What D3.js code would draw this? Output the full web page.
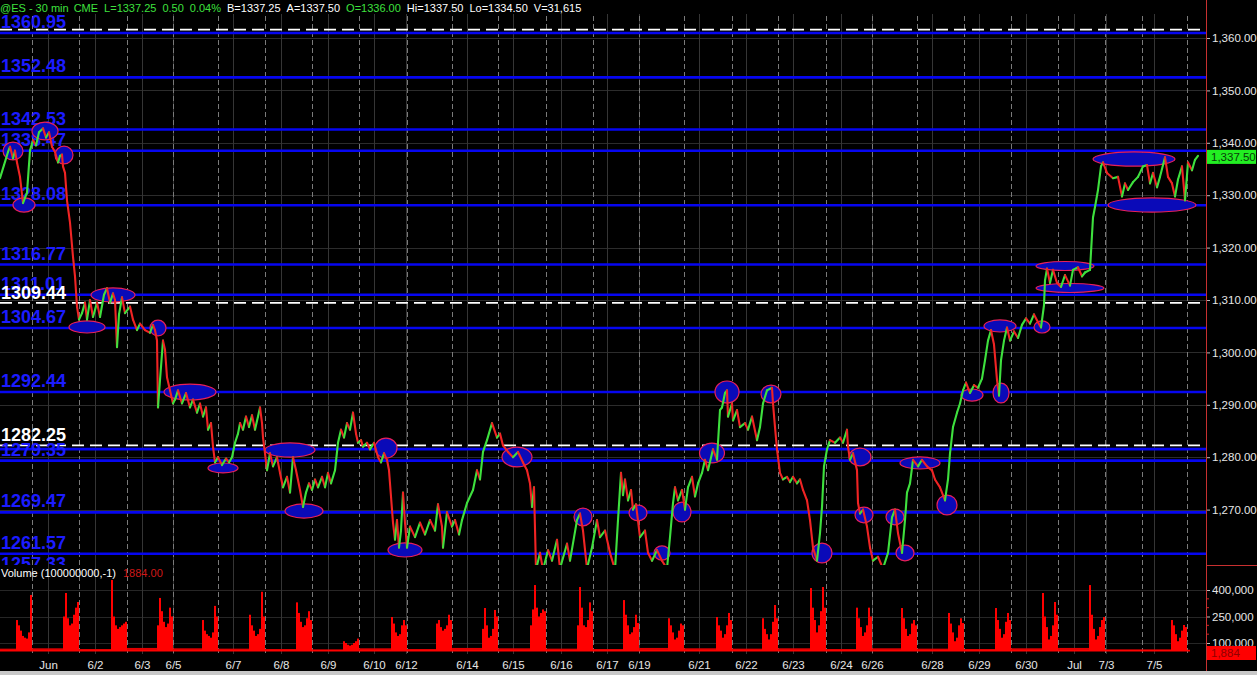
<!DOCTYPE html>
<html><head><meta charset="utf-8">
<script src="https://cdn.jsdelivr.net/npm/d3@7"></script>
<style>html,body{margin:0;padding:0;background:#000;overflow:hidden}</style>
</head><body><svg id="c" width="1257" height="675"></svg>
<script>
// ---------------- DATA ----------------
const blueLevels=[1360.95,1352.48,1342.53,1338.47,1328.08,1316.77,1311.01,1304.67,1292.44,1281.55,1279.35,1269.47,1261.57,1257.53];
const blueLabels=["1360.95","1352.48","1342.53","1338.47","1328.08","1316.77","1311.01","1304.67","1292.44","","1279.35","1269.47","1261.57","1257.33"];
const whiteLevels=[1361.60,1309.44,1282.25];
const whiteLabels=["","1309.44","1282.25"];
const priceTicks=[1360,1350,1340,1330,1320,1310,1300,1290,1280,1270];
const volTicks=[400000,250000,100000];
const volMinorTicks=[350000,300000,200000,150000,50000];
const dateLabels=["Jun","6/2","6/3","6/5","6/7","6/8","6/9","6/10","6/12","6/14","6/15","6/16","6/17","6/19","6/21","6/22","6/23","6/24","6/26","6/28","6/29","6/30","Jul","7/3","7/5"];
const dateBars=[48,95,142,173,233,281,328,374,406,467,513,561,607,639,699,746,793,841,872,932,979,1026,1074,1106,1154];
const sessionEnds=[32,79,127,173,218,265,312,359,407,452,498,546,593,639,684,732,778,826,872,917,964,1011,1058,1105,1142,1187];
const rthEnds=[32,79,127,173,218,265,312,359,407,452,498,546,593,639,684,732,778,826,872,917,964,1011,1058,1105,1187];
// regular-session volume, thousands of contracts, one value per hour
const rthVol=[
 [230,200,170,140,130,125,160,372],[250,383,240,200,210,260,300,332],[457,250,200,180,190,200,210,220],
 [200,355,280,220,190,210,300,250],[230,170,150,140,130,160,310,250],[260,200,170,140,150,180,390,250],
 [330,270,220,190,200,240,280,230],[110,100,90,85,90,100,110,125],[247,210,160,140,150,200,230,200],
 [210,230,190,170,180,200,260,230],[180,298,200,130,140,180,287,250],[200,290,428,300,250,270,290,280],
 [200,417,300,200,190,230,330,280],[343,260,200,150,160,190,260,213],[240,200,160,120,130,170,210,200],
 [247,200,170,130,150,200,270,230],[240,180,150,120,150,220,315,240],[411,300,230,160,200,280,417,300],
 [300,240,190,140,160,200,300,250],[298,240,180,140,150,210,230,200],[270,210,160,110,130,200,240,213],
 [298,230,180,130,150,220,270,230],[383,250,190,120,140,200,332,260],[428,260,180,120,140,190,230,247],
 [230,200,150,110,130,170,202,190]];
const nightVol=[68,70,66,72,70,68,66,64,70,66,72,70,68,66,72,70,68,70,66,70,68,66,70,72,64,62];
const baseVol=56000;
const lastPrice=1337.50, lastVol=1884;
const headerItems=["@ES - 30 min","CME","L=1337.25","0.50","0.04%","B=1337.25","A=1337.50","O=1336.00","Hi=1337.50","Lo=1334.50","V=31,615"];
const headerUp=[true,true,true,true,true,false,false,true,false,false,false];
// ES 30-min path: [bar index, price]
const pricePath=[
[0,1333.25],[4,1335.75],[8,1338.25],[10,1339.25],[13,1337],[15,1338.5],[17,1336.25],[20,1333.5],[23,1328.5],[25,1329.5],[27,1330.5],[30,1338.5],[33,1340.5],[36,1339.5],[39,1342],[43,1342.75],[46,1341],[49,1342],[52,1339.25],[55,1338.25],[58,1336.25],[60,1337.5],[62,1337.75],[63,1335.5],[65,1334.25],[67,1329],[70,1324.75],[73,1318.25],[75,1314.5],[77,1308.75],[79,1306.25],[82,1307.5],[85,1309.5],[87,1306.25],[90,1310],[93,1306.75],[97,1309.5],[100,1306.75],[104,1311],[107,1312.25],[110,1309.5],[113,1311.25],[115,1310],[117,1301],[119,1307.25],[122,1310.5],[125,1307.5],[130,1308.75],[133,1306.25],[137,1304.25],[140,1305.5],[145,1304.25],[150,1303.75],[153,1305.25],[155,1304.25],[157,1302.25],[158,1289.5],[160,1294.75],[163,1302.25],[165,1300.5],[167,1295.25],[170,1292.75],[173,1290.25],
[175,1291],[178,1292.75],[182,1290.25],[186,1292.25],[190,1289.5],[193,1291],[197,1288.5],[200,1290.25],[203,1287.75],[206,1289.5],[208,1285.25],[211,1286.5],[213,1282],[215,1279],[218,1280],[222,1278.5],[226,1279.75],[229,1279],[232,1280],[235,1282.75],[238,1284.5],[240,1286.5],[243,1285.25],[246,1287.75],[249,1285.75],[252,1288],[255,1285.25],[258,1287.75],[260,1289.5],[262,1286.5],[263,1283.75],[265,1280.75],[267,1277.5],[270,1280.75],[273,1278.25],[277,1280],[280,1277],[283,1274.25],[287,1276.25],[290,1273.25],[293,1280],[296,1277.5],[300,1273.75],[303,1270.5],[306,1273.25],[309,1275],[312,1273.75],[315,1275.75],[318,1274.25],[322,1276.25],[325,1274.25],[328,1277],[331,1275],[335,1277.5],[338,1282.75],[341,1285.25],[344,1283.75],[347,1286.5],[350,1285.25],[353,1288.5],[356,1284.5],[358,1282.75],[361,1283.25],[363,1282],[367,1282.75],[370,1281.5],[374,1282.75],[378,1280],[381,1279],[384,1280.75],[387,1279.5],[389,1277.5],[391,1272.5],[393,1267.5],[395,1264.25],[397,1268],[399,1262.75],[401,1266],[403,1273.25],[405,1267.5],[407,1262.75],
[410,1266.75],[415,1264.75],[420,1267.5],[425,1265.25],[430,1268],[435,1266],[438,1271],[442,1266.75],[443,1262.75],[447,1269.5],[452,1266.75],[455,1268],[459,1265.25],[462,1268],[467,1271.25],[473,1273.75],[477,1277.5],[480,1275.75],[483,1281],[487,1283.25],[492,1286.5],[497,1283.75],[500,1284.5],[503,1282.25],[508,1281],[513,1280],[518,1281],[523,1279],[527,1277.5],[530,1275],[532,1270.5],[534,1274.25],[536,1258.5],[540,1261.75],[543,1258.5],[548,1262.25],[552,1260.25],[557,1264.25],[560,1258.75],[567,1263.5],[570,1260.25],[577,1268],[580,1269.25],[583,1266],[587,1258.75],[592,1262.75],[597,1268],[600,1264.75],[605,1266],[610,1261.75],[615,1258.5],[618,1268],[621,1277],[623,1272.75],[625,1275.75],[628,1271.75],[631,1273.75],[633,1270],[636,1271],[640,1264.75],[645,1266],[648,1261.75],[652,1260.25],[657,1262.25],[662,1260.25],[667,1258.75],[670,1264.75],[673,1271.25],[675,1274.25],[678,1271.75],[682,1273.75],[685,1270],[688,1274.25],[692,1276.25],[695,1272.5],[698,1275],[702,1277],[705,1279.5],[708,1277.5],[713,1281.5],[717,1279.5],[718,1282.75],[720,1289],[722,1289.5],[725,1292.25],[727,1292.75],[728,1287.75],[732,1290.25],[733,1287],[737,1289],[740,1285.75],[745,1286.5],[748,1285.25],[752,1287.75],[757,1283.25],[760,1285.75],[763,1290.25],[767,1292.75],[772,1293.25],[773,1290.25],[775,1285.75],[777,1281.5],[780,1277],[783,1275.75],[787,1276.25],[790,1275.25],[793,1276.25],[797,1275],[800,1275.75],[803,1273.75],[807,1271.75],[810,1268],[813,1262.75],[817,1260.25],[820,1265.5],[822,1270.5],[824,1278.25],[827,1281.5],[830,1283.25],[835,1282.75],[840,1283.75],[843,1282.75],[847,1285.25],[848,1282],[850,1279.5],[853,1280.75],[857,1277.5],[858,1271.25],[860,1269.25],[863,1270],[867,1266.75],[870,1262.75],[873,1260.25],[878,1261],[883,1258.75],[888,1261.75],[892,1268.5],[895,1270],[898,1265.5],[902,1261.75],[905,1268],[907,1273.25],[910,1275],[913,1279.5],[918,1278.25],[922,1279.5],[927,1278.25],[932,1277.5],[935,1275.75],[940,1274.25],[945,1271.75],[948,1275.75],[950,1280.75],[953,1285.75],[957,1288.5],[960,1290.25],
[963,1292.75],[966,1294.25],[970,1292.25],[974,1293.75],[978,1293.25],[982,1295],[985,1298.5],[988,1302.25],[991,1304.25],[994,1301.5],[997,1294.75],[999,1291.75],[1001,1298.5],[1004,1302.25],[1007,1304.75],[1010,1302.25],[1014,1304],[1018,1302.75],[1022,1305.25],[1026,1306.5],[1030,1305.5],[1034,1307.25],[1038,1305.75],[1041,1304.75],[1044,1309],[1045,1313.75],
[1047,1316],[1050,1313.25],[1053,1315.75],[1057,1313.25],[1061,1312.5],[1065,1314.75],[1070,1312.75],[1073,1315.75],[1078,1316.25],[1082,1314.5],[1085,1315.25],[1090,1315.75],[1093,1325.75],[1095,1327.75],[1098,1331],[1101,1335.5],[1103,1336.25],[1107,1334.25],[1113,1333.25],[1118,1333.5],[1122,1329.75],[1125,1332.25],[1128,1331],[1133,1332.5],[1138,1333.5],[1143,1335.5],[1147,1335.75],[1150,1332.25],[1153,1334.25],[1157,1331.5],[1160,1333.5],[1165,1337.25],[1168,1333.5],[1172,1332.25],[1175,1329.75],[1178,1333],[1182,1335.5],[1185,1329],[1188,1336.25],[1192,1334.75],[1195,1336.75],[1198,1337.5]];
// highlighted zones: [bar, price, half-width in bars, half-height in points]
const zones=[[13,1338.43,10,1.7],[24,1328.13,11,1.35],[45,1342.25,13,1.7],[64,1337.67,9,1.7],[113,1310.95,22,1.35],[87,1304.85,18,1.15],[158,1304.65,8,1.5],[190,1292.44,26,1.5],[223,1277.94,15,0.95],[290,1281.37,25,1.35],[304,1269.73,19,1.35],[386,1281.75,11,1.9],[405,1262.3,17,1.35],[517,1280.04,15,1.9],[583,1268.6,9,1.7],[638,1269.35,9,1.5],[662,1261.72,8,1.35],[682,1269.54,9,1.9],[712,1280.8,12.5,1.9],[727,1292.44,12,2.1],[771,1292.06,10,1.7],[860,1280.04,11,1.7],[822,1261.72,10,1.9],[864,1268.97,9,1.5],[895,1268.59,9,1.5],[905,1261.72,9,1.5],[920,1278.9,20,1.15],[947,1270.88,10,1.9],[972,1291.87,11,1.15],[1001,1292.25,8,1.9],[1000,1305.04,16,1.15],[1042,1304.85,8,1.15],[1065,1316.49,29,0.86],[1070,1312.29,34,0.86],[1134,1336.9,41,1.35],[1152,1328.13,44,1.35]];

// ---------------- DRAW ----------------
const W=1257,H=675,plotR=1206,priceBot=565,volTop=565,volBot=657;
const FONT="'Liberation Sans',Arial,sans-serif";
const svg=d3.select("#c");
svg.append("rect").attr("width",W).attr("height",H).attr("fill","#000");
const x=d3.scaleLinear().domain([0,1206]).range([0,plotR]);
const y=d3.scaleLinear().domain([1270,1360]).range([509.6,38]);
const vy=d3.scaleLinear().domain([100000,400000]).range([643,590]);

const defs=svg.append("defs");
defs.append("clipPath").attr("id","cp").append("rect").attr("x",0).attr("y",0).attr("width",plotR).attr("height",priceBot);
defs.append("clipPath").attr("id","cv").append("rect").attr("x",0).attr("y",volTop).attr("width",plotR).attr("height",volBot-volTop);

// grid
const grid=svg.append("g");
grid.selectAll(".hg").data(priceTicks).join("line").attr("x1",0).attr("x2",plotR)
  .attr("y1",d=>Math.round(y(d))+0.5).attr("y2",d=>Math.round(y(d))+0.5).attr("stroke","#2c2c2c");
grid.selectAll(".vg").data(volTicks).join("line").attr("x1",0).attr("x2",plotR)
  .attr("y1",d=>Math.round(vy(d))+0.5).attr("y2",d=>Math.round(vy(d))+0.5).attr("stroke","#262626");
grid.selectAll(".dg").data(dateBars).join("line").attr("x1",d=>Math.round(x(d))+0.5).attr("x2",d=>Math.round(x(d))+0.5)
  .attr("y1",0).attr("y2",volBot-3).attr("stroke","#353535");
grid.selectAll(".sg").data(sessionEnds).join("line").attr("x1",d=>Math.round(x(d))+0.5).attr("x2",d=>Math.round(x(d))+0.5)
  .attr("y1",0).attr("y2",volBot-3).attr("stroke","#7a7a7a").attr("stroke-dasharray","5,3");

// price panel
const pp=svg.append("g").attr("clip-path","url(#cp)");
pp.selectAll(".bl").data(blueLevels).join("line").attr("x1",0).attr("x2",plotR)
  .attr("y1",d=>y(d)).attr("y2",d=>y(d)).attr("stroke","#0606f0").attr("stroke-width",2.6);
pp.selectAll(".wl").data(whiteLevels).join("line").attr("x1",0).attr("x2",plotR)
  .attr("y1",d=>y(d)).attr("y2",d=>y(d)).attr("stroke","#fff").attr("stroke-width",1.8).attr("stroke-dasharray","12,6");
pp.selectAll(".blt").data(blueLevels).join("text").attr("x",1).attr("y",d=>y(d)-5)
  .text((d,i)=>blueLabels[i]).attr("fill","#1c1cff").attr("font-family",FONT).attr("font-weight","bold").attr("font-size",18);
pp.selectAll(".wlt").data(whiteLevels).join("text").attr("x",1).attr("y",d=>y(d)-4)
  .text((d,i)=>whiteLabels[i]).attr("fill","#fff").attr("font-family",FONT).attr("font-weight","bold").attr("font-size",18);
pp.selectAll(".zone").data(zones).join("ellipse")
  .attr("cx",d=>x(d[0])).attr("cy",d=>y(d[1])).attr("rx",d=>x(d[2])-x(0)).attr("ry",d=>y(d[1]-d[3])-y(d[1]))
  .attr("fill","#0a0ab8").attr("stroke","#e8205a").attr("stroke-width",1.2);
const segs=d3.pairs(pricePath);
pp.selectAll(".seg").data(segs).join("line")
  .attr("x1",d=>x(d[0][0])).attr("y1",d=>y(d[0][1])).attr("x2",d=>x(d[1][0])).attr("y2",d=>y(d[1][1]))
  .attr("stroke",d=>d[1][1]>=d[0][1]?"#3ee03e":"#f02424").attr("stroke-width",2.1).attr("stroke-linecap","round");

// header
svg.append("rect").attr("x",0).attr("y",0).attr("width",W).attr("height",14).attr("fill","#000");
let hx=0;
headerItems.forEach((t,i)=>{
  const el=svg.append("text").attr("x",hx).attr("y",12).text(t).attr("fill",headerUp[i]?"#3ee03e":"#fff")
    .attr("font-family",FONT).attr("font-size",11);
  hx+=el.node().getComputedTextLength()+(i===0?5:6);
});

// volume panel
const vp=svg.append("g").attr("clip-path","url(#cv)");
const nightSpans=[];
let prev=0;
rthEnds.forEach((e,i)=>{nightSpans.push([prev,e-16,nightVol[i]]);prev=e;});
nightSpans.push([prev,1190,nightVol[nightVol.length-1]]);
vp.selectAll(".nv").data(nightSpans).join("rect").attr("x",d=>x(d[0])).attr("width",d=>x(d[1])-x(d[0]))
  .attr("y",d=>vy(d[2]*1000)).attr("height",d=>vy(baseVol)-vy(d[2]*1000)).attr("fill","#e00000");
const vbars=[];
rthEnds.forEach((e,i)=>rthVol[i].forEach((v,j)=>vbars.push([e-16+2*j,v*1000])));
vp.selectAll(".vb").data(vbars).join("rect").attr("x",d=>x(d[0])).attr("width",x(2)-x(0))
  .attr("y",d=>vy(d[1])).attr("height",d=>vy(baseVol)-vy(d[1])).attr("fill","#ff0000");
vp.append("line").attr("x1",0).attr("x2",x(1190)).attr("y1",vy(baseVol)).attr("y2",vy(baseVol)).attr("stroke","#ff0000").attr("stroke-width",1.5);
svg.append("text").attr("x",1).attr("y",577).text("Volume (100000000,-1)").attr("fill","#fff").attr("font-family",FONT).attr("font-size",11);
svg.append("text").attr("x",123).attr("y",577).text("1884.00").attr("fill","#d01818").attr("font-family",FONT).attr("font-size",11);

// date axis
const xa=svg.append("g").attr("transform",`translate(0,${volBot+1})`)
  .call(d3.axisBottom(x).tickValues(dateBars).tickSize(0).tickPadding(3).tickFormat((d,i)=>dateLabels[i]));
xa.select(".domain").remove();
xa.selectAll("text").attr("fill","#e6e6e6").attr("font-family",FONT).attr("font-size",11.5);

// right axes
const ya=svg.append("g").attr("transform",`translate(${plotR},0)`)
  .call(d3.axisRight(y).tickValues(priceTicks).tickSize(4).tickPadding(2).tickFormat(d3.format(",.2f")));
ya.select(".domain").remove();
ya.selectAll("line").attr("stroke","#bbb");
ya.selectAll("text").attr("fill","#e6e6e6").attr("font-family",FONT).attr("font-size",11.5);
const va=svg.append("g").attr("transform",`translate(${plotR},0)`)
  .call(d3.axisRight(vy).tickValues(volTicks).tickSize(4).tickPadding(2).tickFormat(d3.format(",")));
va.select(".domain").remove();
va.selectAll("line").attr("stroke","#bbb");
va.selectAll("text").attr("fill","#e6e6e6").attr("font-family",FONT).attr("font-size",11.5);
svg.selectAll(".mt").data(volMinorTicks).join("line").attr("x1",plotR).attr("x2",plotR+3)
  .attr("y1",d=>vy(d)).attr("y2",d=>vy(d)).attr("stroke","#d02020");
svg.append("line").attr("x1",plotR+0.5).attr("x2",plotR+0.5).attr("y1",0).attr("y2",671).attr("stroke","#c83030").attr("stroke-width",1);
svg.append("line").attr("x1",plotR).attr("x2",W).attr("y1",volTop+0.5).attr("y2",volTop+0.5).attr("stroke","#c83030");

// last value boxes
const ly=y(lastPrice)+1;
svg.append("rect").attr("x",plotR+1).attr("y",ly-7).attr("width",W-plotR-2).attr("height",14).attr("fill","#22ee22");
svg.append("text").attr("x",plotR+5).attr("y",ly+4).text(d3.format(",.2f")(lastPrice)).attr("fill","#0a3a0a").attr("font-family",FONT).attr("font-size",11.5);
const lvy=Math.min(vy(lastVol),653);
svg.append("rect").attr("x",plotR+1).attr("y",lvy-7).attr("width",W-plotR-2).attr("height",14).attr("fill","#ff0000");
svg.append("text").attr("x",plotR+5).attr("y",lvy+4).text(d3.format(",")(lastVol)).attr("fill","#900000").attr("font-family",FONT).attr("font-size",11.5);

svg.append("rect").attr("x",0).attr("y",671).attr("width",W).attr("height",4).attr("fill","#c8c8c8");
</script></body></html>
